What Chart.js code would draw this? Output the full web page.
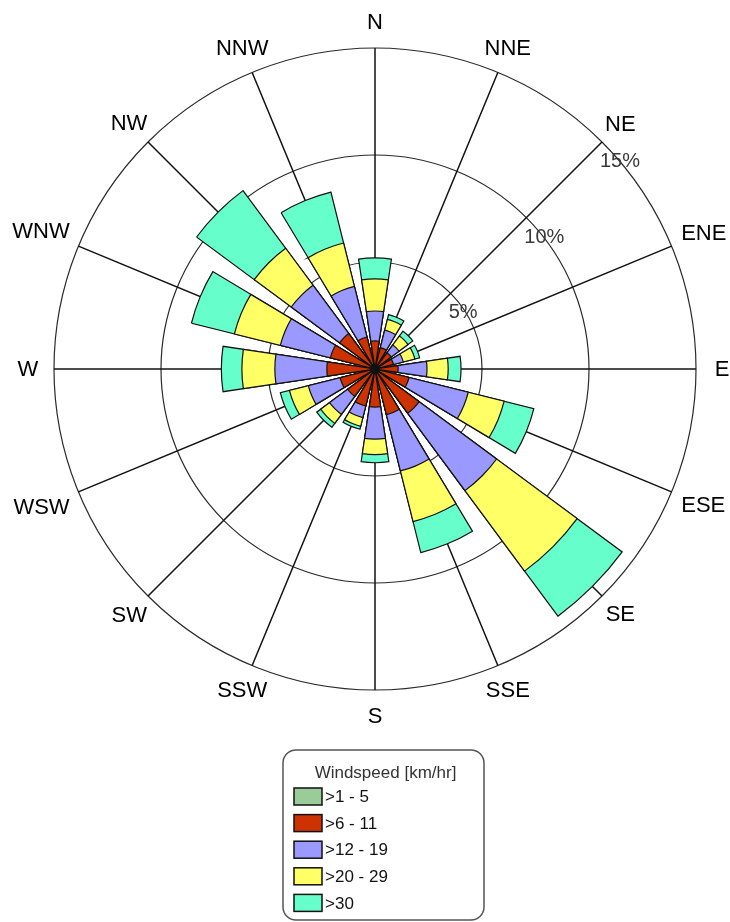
<!DOCTYPE html>
<html>
<head>
<meta charset="utf-8">
<title>Wind rose</title>
<script src="https://cdn.jsdelivr.net/npm/chart.js@4.4.1/dist/chart.umd.min.js"></script>
<style>
  html, body { margin: 0; padding: 0; background: #ffffff; }
  #wrap { width: 730px; height: 922px; }
  canvas { display: block; }
</style>
</head>
<body>
<div id="wrap"><canvas id="rose" width="730" height="922"></canvas></div>
<script>
// Compass sectors, clockwise from north
const directions = ['N', 'NNE', 'NE', 'ENE', 'E', 'ESE', 'SE', 'SSE',
                    'S', 'SSW', 'SW', 'WSW', 'W', 'WNW', 'NW', 'NNW'];

// Wind speed classes and their fill colours
const speedClasses = ['>1 - 5', '>6 - 11', '>12 - 19', '>20 - 29', '>30'];
const classColors  = ['#99cc99', '#cc3300', '#9999ff', '#ffff66', '#66ffcc'];

// Frequency (% of time) per direction for each speed class
const freq1to5   = [0.20, 0.20, 0.20, 0.20, 0.20, 0.20, 0.20, 0.20, 0.20, 0.20, 0.20, 0.20, 0.20, 0.20, 0.20, 0.20];
const freq6to11  = [1.11, 0.83, 0.74, 0.69, 0.88, 1.44, 2.37, 2.00, 1.58, 1.58, 1.39, 1.48, 2.05, 1.95, 1.86, 1.34];
const freq12to19 = [1.40, 0.84, 0.46, 0.47, 1.35, 2.85, 4.50, 2.71, 1.50, 0.56, 1.05, 1.53, 2.43, 2.41, 2.81, 2.44];
const freq20to29 = [1.50, 0.52, 0.52, 0.56, 0.99, 1.73, 4.68, 2.44, 0.72, 0.42, 0.52, 0.91, 1.54, 2.21, 2.15, 2.09];
const freqOver30 = [0.98, 0.23, 0.28, 0.23, 0.60, 1.43, 2.62, 1.49, 0.38, 0.14, 0.23, 0.44, 0.96, 2.07, 3.35, 2.45];

// Radial rings (percent)
const ringTicks = [5, 10, 15];
const legendTitle = 'Windspeed [km/hr]';

const classSeries = [freq1to5, freq6to11, freq12to19, freq20to29, freqOver30];

// Angular width of a bar and of the gap that separates neighbours (degrees)
const BAR_SPAN = 17;
const GAP_SPAN = 360 / directions.length - BAR_SPAN;

// Running totals so each class ring sits on top of the slower ones
const cumulative = classSeries.map((_, k) =>
  directions.map((_, i) => classSeries.slice(0, k + 1).reduce((s, arr) => s + arr[i], 0))
);

// Every bar is followed by an empty gap sector
const sectorLabels = directions.flatMap(d => [d, '']);

const datasets = cumulative.map((vals, k) => ({
  label: speedClasses[k],
  data: vals.flatMap(v => [v, 0]),
  rAxisID: 'r',
  backgroundColor: classColors[k],
  borderColor: '#111111',
  borderWidth: ctx => (ctx.dataIndex % 2 ? 0 : 1.2),
  borderJoinStyle: 'miter',
  angle: ctx => (ctx.dataIndex % 2 ? GAP_SPAN : BAR_SPAN)
}));

const FONT = '"Liberation Sans", Arial, Helvetica, sans-serif';

// Compass labels, ring labels and the speed legend
const roseDecor = {
  id: 'roseDecor',
  afterDraw(chart) {
    const ctx = chart.ctx;
    const dir = chart.scales.dir;

    ctx.save();
    // compass names around the outer ring
    ctx.font = '22px ' + FONT;
    ctx.fillStyle = '#000000';
    ctx.textAlign = 'center';
    ctx.textBaseline = 'middle';
    directions.forEach((name, i) => {
      const w = ctx.measureText(name).width;
      const theta = dir.getIndexAngle(i);
      const extra = Math.max(0, (w / 2) * Math.abs(Math.sin(theta)) - 12);
      const p = dir.getPointPosition(i, dir.drawingArea + 26 + extra);
      ctx.fillText(name, p.x, p.y + 1);
    });

    // percent labels next to the NE spoke
    ctx.font = '20px ' + FONT;
    ctx.fillStyle = '#3a3a3a';
    ctx.textAlign = 'left';
    ctx.textBaseline = 'alphabetic';
    ringTicks.forEach(v => {
      const p = dir.getPointPosition(2, dir.getDistanceFromCenterForValue(v));
      ctx.fillText(v + '%', p.x - 2, p.y + 25);
    });

    // legend box
    const bx = 283, by = 750, bw = 201, bh = 170, br = 13;
    ctx.beginPath();
    ctx.moveTo(bx + br, by);
    ctx.lineTo(bx + bw - br, by);
    ctx.arcTo(bx + bw, by, bx + bw, by + br, br);
    ctx.lineTo(bx + bw, by + bh - br);
    ctx.arcTo(bx + bw, by + bh, bx + bw - br, by + bh, br);
    ctx.lineTo(bx + br, by + bh);
    ctx.arcTo(bx, by + bh, bx, by + bh - br, br);
    ctx.lineTo(bx, by + br);
    ctx.arcTo(bx, by, bx + br, by, br);
    ctx.closePath();
    ctx.fillStyle = '#ffffff';
    ctx.fill();
    ctx.lineWidth = 1.5;
    ctx.strokeStyle = '#555555';
    ctx.stroke();

    ctx.font = '17px ' + FONT;
    ctx.fillStyle = '#333333';
    ctx.textAlign = 'center';
    ctx.fillText(legendTitle, bx + bw / 2 + 2, 778);

    ctx.textAlign = 'left';
    ctx.textBaseline = 'middle';
    chart.data.datasets.forEach((ds, k) => {
      const cy = 796.5 + k * 26.6;
      ctx.fillStyle = ds.backgroundColor;
      ctx.fillRect(294, cy - 8.5, 28, 17);
      ctx.lineWidth = 1.5;
      ctx.strokeStyle = '#111111';
      ctx.strokeRect(294, cy - 8.5, 28, 17);
      ctx.fillStyle = '#111111';
      ctx.fillText(ds.label, 325, cy + 1);
    });
    ctx.restore();
  }
};

new Chart(document.getElementById('rose'), {
  type: 'polarArea',
  data: { labels: sectorLabels, datasets },
  options: {
    responsive: false,
    animation: false,
    events: [],
    layout: { padding: { left: 54, right: 34, top: 48, bottom: 232 } },
    plugins: {
      legend: { display: false },
      tooltip: { enabled: false }
    },
    scales: {
      r: {
        axis: 'r',
        type: 'radialLinear',
        min: 0,
        max: 15,
        startAngle: -BAR_SPAN / 2,
        ticks: { display: false },
        grid: { display: false },
        angleLines: { display: false },
        pointLabels: { display: false }
      },
      dir: {
        axis: 'r',
        type: 'radialLinear',
        min: 0,
        max: 15,
        startAngle: 0,
        labels: directions,
        ticks: { display: false, stepSize: 5 },
        grid: { display: true, circular: true, color: '#2a2a2a', lineWidth: 1.2 },
        angleLines: { display: true, color: '#111111', lineWidth: 1.5 },
        pointLabels: { display: false }
      }
    }
  },
  plugins: [roseDecor]
});
</script>
</body>
</html>
